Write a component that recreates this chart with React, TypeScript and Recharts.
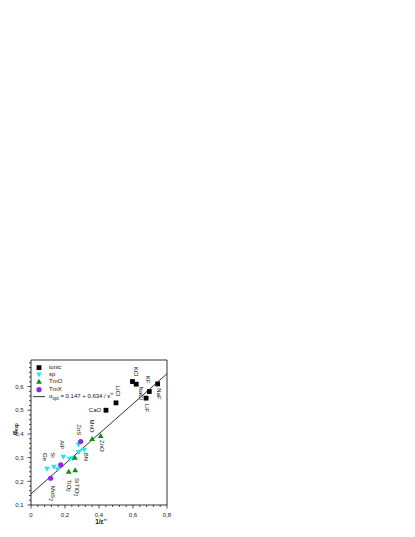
import { ComposedChart, Scatter, XAxis, YAxis, ReferenceLine, Legend } from "recharts";

// Values (x = 1/eps_inf, y = alpha_exp)
const ionicNames = ["CaO", "LiCl", "KCl", "NaCl", "LiF", "KF", "NaF"];
const ionicX = [0.441, 0.5, 0.597, 0.619, 0.677, 0.696, 0.745];
const ionicY = [0.5, 0.531, 0.621, 0.61, 0.551, 0.579, 0.611];

const spNames = ["Ge", "Si", "", "AlP", "", "", "ZnS", "", "BN"];
const spX = [0.094, 0.135, 0.157, 0.19, 0.228, 0.246, 0.279, 0.281, 0.313];
const spY = [0.252, 0.261, 0.25, 0.303, 0.294, 0.297, 0.354, 0.323, 0.332];

const tmoNames = ["TiO2", "SrTiO3", "", "MnO", "ZnO"];
const tmoX = [0.222, 0.26, 0.258, 0.36, 0.41];
const tmoY = [0.241, 0.248, 0.3, 0.379, 0.392];

const tmxNames = ["MoS2", "", ""];
const tmxX = [0.115, 0.175, 0.292];
const tmxY = [0.213, 0.269, 0.368];

// fitted line alpha_opt = 0.147 + 0.634 / eps, end points
const fitX = [0, 0.8];
const fitY = [0.147, 0.654];

const xMajor = [0, 0.2, 0.4, 0.6, 0.8];
const yMajor = [0.1, 0.2, 0.3, 0.4, 0.5, 0.6];
const xMinorStep = 0.04;
const yMinorStep = 0.02;

const X_MAX = 0.8;
const Y_MIN = 0.1;
const Y_MAX = 0.712;

const toRows = (xs: number[], ys: number[], names: string[]) =>
  xs.map((x, i) => ({ x, y: ys[i], name: names[i] }));

const ionic = toRows(ionicX, ionicY, ionicNames);
const sp = toRows(spX, spY, spNames);
const tmo = toRows(tmoX, tmoY, tmoNames);
const tmx = toRows(tmxX, tmxY, tmxNames);
const fit = fitX.map((x, i) => ({ x, y: fitY[i] }));

const xTicks: number[] = [];
for (let i = 0; i <= Math.round(X_MAX / xMinorStep); i++) xTicks.push(Math.round(i * xMinorStep * 1000) / 1000);
const yTicks: number[] = [];
for (let i = 0; i <= Math.round((0.7 - Y_MIN) / yMinorStep); i++) yTicks.push(Math.round((Y_MIN + i * yMinorStep) * 1000) / 1000);

const FONT = "'Liberation Sans', Arial, sans-serif";
const COLORS = { ionic: "#000000", sp: "#1fe6f5", tmo: "#148a14", tmx: "#8a2be2" };

// label placement relative to the point: dx, dy, rotated or not
const labelPos: Record<string, { dx: number; dy: number; rot: boolean }> = {
  CaO: { dx: -11, dy: 0, rot: false },
  LiCl: { dx: 2, dy: -12, rot: true },
  KCl: { dx: 3, dy: -10, rot: true },
  NaCl: { dx: 4.5, dy: 9, rot: true },
  KF: { dx: -1, dy: -12, rot: true },
  LiF: { dx: 1, dy: 10, rot: true },
  NaF: { dx: 1, dy: 10, rot: true },
  Ge: { dx: -2, dy: -12, rot: true },
  Si: { dx: -1, dy: -12, rot: true },
  AlP: { dx: -1, dy: -12, rot: true },
  ZnS: { dx: 1, dy: -15, rot: true },
  BN: { dx: 2, dy: 7, rot: true },
  TiO2: { dx: 0, dy: 14, rot: true },
  SrTiO3: { dx: 1.5, dy: 17, rot: true },
  MnO: { dx: 0, dy: -13, rot: true },
  ZnO: { dx: 1, dy: 10, rot: true },
  MoS2: { dx: 2, dy: 15, rot: true },
};

const subDigits = (s: string) => {
  const parts = s.split(/(\d)/).filter((p) => p !== "");
  return parts.map((p, i) =>
    /\d/.test(p) ? (
      <tspan key={i} fontSize={4.5} dy={1.2}>{p}</tspan>
    ) : (
      <tspan key={i} dy={i > 0 && /\d/.test(parts[i - 1]) ? -1.2 : 0}>{p}</tspan>
    )
  );
};

const markerFor = (kind: string, cx: number, cy: number, color: string) => {
  if (kind === "square") return <rect x={cx - 2.4} y={cy - 2.4} width={4.8} height={4.8} fill={color} />;
  if (kind === "down") return <polygon points={`${cx - 2.9},${cy - 2.2} ${cx + 2.9},${cy - 2.2} ${cx},${cy + 2.8}`} fill={color} />;
  if (kind === "up") return <polygon points={`${cx - 2.9},${cy + 2.2} ${cx + 2.9},${cy + 2.2} ${cx},${cy - 2.8}`} fill={color} />;
  return <circle cx={cx} cy={cy} r={2.6} fill={color} />;
};

const makeShape = (kind: string, color: string) => (props: any) => {
  const { cx, cy, payload } = props;
  const pos = payload && labelPos[payload.name];
  let label = null;
  if (pos) {
    const lx = cx + pos.dx;
    const ly = cy + pos.dy;
    label = (
      <text
        x={lx}
        y={ly}
        textAnchor="middle"
        dominantBaseline="central"
        fontSize={6}
        fontFamily={FONT}
        fill="#111"
        transform={pos.rot ? `rotate(90 ${lx} ${ly})` : undefined}
      >
        {subDigits(payload.name)}
      </text>
    );
  }
  return (
    <g>
      {markerFor(kind, cx, cy, color)}
      {label}
    </g>
  );
};

const fmt = (v: number) => (Math.round(v * 10) / 10).toFixed(1).replace(".", ",").replace(/^0,0$/, "0");

const isMajor = (arr: number[], v: number) => arr.some((m) => Math.abs(m - v) < 1e-6);

const XTick = (props: any) => {
  const { x, y, payload } = props;
  const major = isMajor(xMajor, payload.value);
  return (
    <g>
      <line x1={x} x2={x} y1={y} y2={y + (major ? 3.5 : 2)} stroke="#000" strokeWidth={0.7} />
      {major && (
        <text x={x} y={y + 11.5} textAnchor="middle" fontSize={6} fontFamily={FONT} fill="#222">
          {fmt(payload.value)}
        </text>
      )}
    </g>
  );
};

const YTick = (props: any) => {
  const { x, y, payload } = props;
  const major = isMajor(yMajor, payload.value);
  return (
    <g>
      <line x1={x} x2={x - (major ? 3.5 : 2)} y1={y} y2={y} stroke="#000" strokeWidth={0.7} />
      {major && (
        <text x={x - 7.5} y={y + 2.2} textAnchor="end" fontSize={6} fontFamily={FONT} fill="#222">
          {fmt(payload.value)}
        </text>
      )}
    </g>
  );
};

const legendRows = [
  { kind: "square", color: COLORS.ionic, text: "ionic" },
  { kind: "down", color: COLORS.sp, text: "sp" },
  { kind: "up", color: COLORS.tmo, text: "TmO" },
  { kind: "circle", color: COLORS.tmx, text: "TmX" },
];

const LegendBox = () => (
  <div style={{ fontFamily: FONT, fontSize: 6, color: "#111", lineHeight: "7.3px" }}>
    {legendRows.map((r) => (
      <div key={r.text} style={{ display: "flex", alignItems: "center", height: 7.3 }}>
        <svg width={12} height={7.3} style={{ display: "block" }}>
          {markerFor(r.kind, 6, 3.65, r.color)}
        </svg>
        <span style={{ marginLeft: 4 }}>{r.text}</span>
      </div>
    ))}
    <div style={{ display: "flex", alignItems: "center", height: 7.3, whiteSpace: "nowrap" }}>
      <svg width={12} height={7.3} style={{ display: "block" }}>
        <line x1={0} x2={12} y1={3.65} y2={3.65} stroke="#000" strokeWidth={0.8} />
      </svg>
      <span style={{ marginLeft: 4 }}>
        α<sub style={{ fontSize: 4.5 }}>opt</sub> = 0.147 + 0.634 / ε<sup style={{ fontSize: 4.5 }}>∞</sup>
      </span>
    </div>
  </div>
);

const XTitle = (props: any) => {
  const vb = props.viewBox || { x: 31, y: 505, width: 136 };
  return (
    <text x={vb.x + vb.width / 2 + 2} y={vb.y + 18.5} textAnchor="middle" fontSize={6.5} fontWeight="bold" fontFamily={FONT} fill="#111">
      1/ε<tspan fontSize={4.5} dy={-2.5}>∞</tspan>
    </text>
  );
};

const YTitle = (props: any) => {
  const vb = props.viewBox || { x: 0, y: 360, width: 31, height: 145 };
  const cx = vb.x + 14.5;
  const cy = vb.y + 69;
  return (
    <text x={cx} y={cy} textAnchor="middle" dominantBaseline="central" fontSize={6.5} fontWeight="bold" fontFamily={FONT} fill="#111" transform={`rotate(-90 ${cx} ${cy})`}>
      α<tspan fontSize={4.5} dy={1.5}>exp</tspan>
    </text>
  );
};

export default function App() {
  return (
    <div style={{ position: "absolute", left: 0, top: 0, width: 415, height: 537, background: "#fff" }}>
      <ComposedChart width={415} height={537} margin={{ top: 360, right: 248, bottom: 0, left: 0 }}>
        <XAxis
          type="number"
          dataKey="x"
          domain={[0, X_MAX]}
          ticks={xTicks}
          interval={0}
          height={32}
          tickSize={0}
          tickMargin={0}
          tickLine={false}
          tick={<XTick />}
          axisLine={{ stroke: "#000", strokeWidth: 0.8 }}
          allowDataOverflow
          label={<XTitle />}
        />
        <YAxis
          type="number"
          dataKey="y"
          domain={[Y_MIN, Y_MAX]}
          ticks={yTicks}
          interval={0}
          width={31}
          tickSize={0}
          tickMargin={0}
          tickLine={false}
          tick={<YTick />}
          axisLine={{ stroke: "#000", strokeWidth: 0.8 }}
          allowDataOverflow
          label={<YTitle />}
        />
        <ReferenceLine y={Y_MAX} stroke="#000" strokeWidth={0.8} />
        <ReferenceLine x={X_MAX} stroke="#000" strokeWidth={0.8} />
        <Legend
          layout="vertical"
          align="center"
          verticalAlign="middle"
          wrapperStyle={{ position: "absolute", left: 33, top: 363.7, width: 130, height: 37 }}
          content={() => <LegendBox />}
        />
        <Scatter data={fit} line={{ stroke: "#000", strokeWidth: 0.8 }} shape={() => <g />} isAnimationActive={false} legendType="none" />
        <Scatter data={ionic} shape={makeShape("square", COLORS.ionic)} isAnimationActive={false} />
        <Scatter data={sp} shape={makeShape("down", COLORS.sp)} isAnimationActive={false} />
        <Scatter data={tmo} shape={makeShape("up", COLORS.tmo)} isAnimationActive={false} />
        <Scatter data={tmx} shape={makeShape("circle", COLORS.tmx)} isAnimationActive={false} />
      </ComposedChart>
    </div>
  );
}
